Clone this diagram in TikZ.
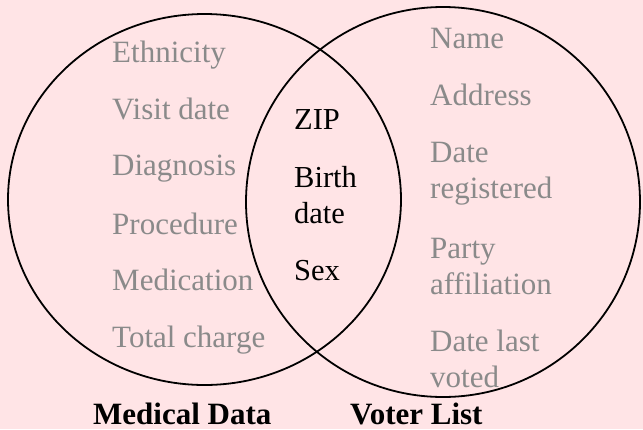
\documentclass[tikz,border=0pt]{standalone}
\usepackage{fontspec}
\setmainfont{Liberation Serif}
\usetikzlibrary{shapes.geometric}
\definecolor{bgpink}{HTML}{FFE4E6}
\definecolor{itemgray}{HTML}{8A8A8A}
\begin{document}
\begin{tikzpicture}[x=1pt,y=-1pt,
  setcircle/.style={ellipse, draw=black, line width=1.8pt, inner sep=0pt},
  item/.style={anchor=base west, inner sep=0pt, text=itemgray, font=\fontsize{31}{36}\selectfont, align=left},
  shared/.style={anchor=base west, inner sep=0pt, text=black, font=\fontsize{30.5}{36}\selectfont, align=left},
  setlabel/.style={anchor=base west, inner sep=0pt, text=black, font=\fontsize{31}{36}\selectfont\bfseries}]
\fill[bgpink] (0,0) rectangle (643,429);
\useasboundingbox (0,0) rectangle (643,429);
\node[setcircle, minimum width=393pt, minimum height=371pt] (med) at (204.5,199.5) {};
\node[setcircle, minimum width=394pt, minimum height=390pt] (vot) at (443,202) {};
% left items
\node[item] (eth) at (112,62) {Ethnicity};
\node[item] (vis) at (112,119) {Visit date};
\node[item] (dia) at (112,175) {Diagnosis};
\node[item] (pro) at (112,234) {Procedure};
\node[item] (mdc) at (112,290) {Medication};
\node[item] (tot) at (112,347) {Total charge};
% shared
\node[shared] (zip) at (294,129) {ZIP};
\node[shared] (bir) at (294,223) {Birth\\date};
\node[shared] (sex) at (294,280) {Sex};
% right items
\node[item] (nam) at (430,48) {Name};
\node[item] (adr) at (430,105) {Address};
\node[item] (drg) at (430,198) {Date\\registered};
\node[item] (par) at (430,294) {Party\\affiliation};
\node[item] (dlv) at (430,387) {Date last\\voted};
% labels
\node[setlabel] (medl) at (93,424) {Medical Data};
\node[setlabel] (votl) at (350,424) {Voter List};
\end{tikzpicture}
\end{document}
